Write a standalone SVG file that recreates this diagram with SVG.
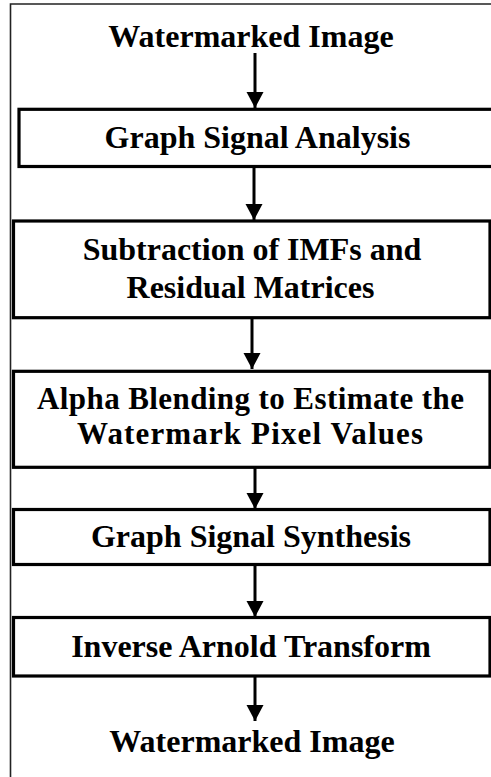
<svg xmlns="http://www.w3.org/2000/svg" width="491" height="777" viewBox="0 0 491 777">
  <style>
    .frame { fill: none; stroke: #222; stroke-width: 1.6; }
    .box { fill: #fff; stroke: #000; stroke-width: 3.2; }
    .lbl { font-family: "Liberation Serif", "Times New Roman", serif; font-weight: bold; font-size: 32px; fill: #000; text-anchor: middle; }
    .tight { font-size: 31px; }
    .link { stroke: #000; stroke-width: 3; fill: none; marker-end: url(#head); }
  </style>
  <defs>
    <marker id="head" markerUnits="userSpaceOnUse" markerWidth="18" markerHeight="18" refX="16" refY="8.5" orient="auto">
      <path d="M0,0 L16,8.5 L0,17 Z" fill="#000"/>
    </marker>
  </defs>

  <rect width="491" height="777" fill="#fff"/>

  <!-- outer frame, open beyond the right and bottom edges -->
  <path class="frame" d="M10.5,780 V4 H495"/>

  <g id="connectors">
    <path class="link" d="M255,53 V108"/>
    <path class="link" d="M254,168 V220"/>
    <path class="link" d="M252,319 V369"/>
    <path class="link" d="M255,468 V509"/>
    <path class="link" d="M255,566 V617"/>
    <path class="link" d="M255,677 V721"/>
  </g>

  <g id="input">
    <text class="lbl" x="251" y="46.5">Watermarked Image</text>
  </g>

  <g id="analysis">
    <rect class="box" x="19" y="109.3" width="480" height="57.2"/>
    <text class="lbl" x="257.5" y="148">Graph Signal Analysis</text>
  </g>

  <g id="subtraction">
    <rect class="box" x="13.5" y="221" width="476.5" height="96.7"/>
    <text class="lbl" x="252" y="260">Subtraction of IMFs and</text>
    <text class="lbl" x="250.5" y="298">Residual Matrices</text>
  </g>

  <g id="blending">
    <rect class="box" x="13.5" y="371.3" width="476.5" height="96"/>
    <text class="lbl tight" x="250.5" y="409" textLength="427" lengthAdjust="spacing">Alpha Blending to Estimate the</text>
    <text class="lbl tight" x="250" y="444" textLength="346" lengthAdjust="spacing">Watermark Pixel Values</text>
  </g>

  <g id="synthesis">
    <rect class="box" x="13.5" y="509.5" width="476.5" height="55"/>
    <text class="lbl" x="251" y="546.5">Graph Signal Synthesis</text>
  </g>

  <g id="arnold">
    <rect class="box" x="13.5" y="617.5" width="476.5" height="58.5"/>
    <text class="lbl" x="251" y="656.5">Inverse Arnold Transform</text>
  </g>

  <g id="output">
    <text class="lbl" x="252" y="751.5">Watermarked Image</text>
  </g>
</svg>
